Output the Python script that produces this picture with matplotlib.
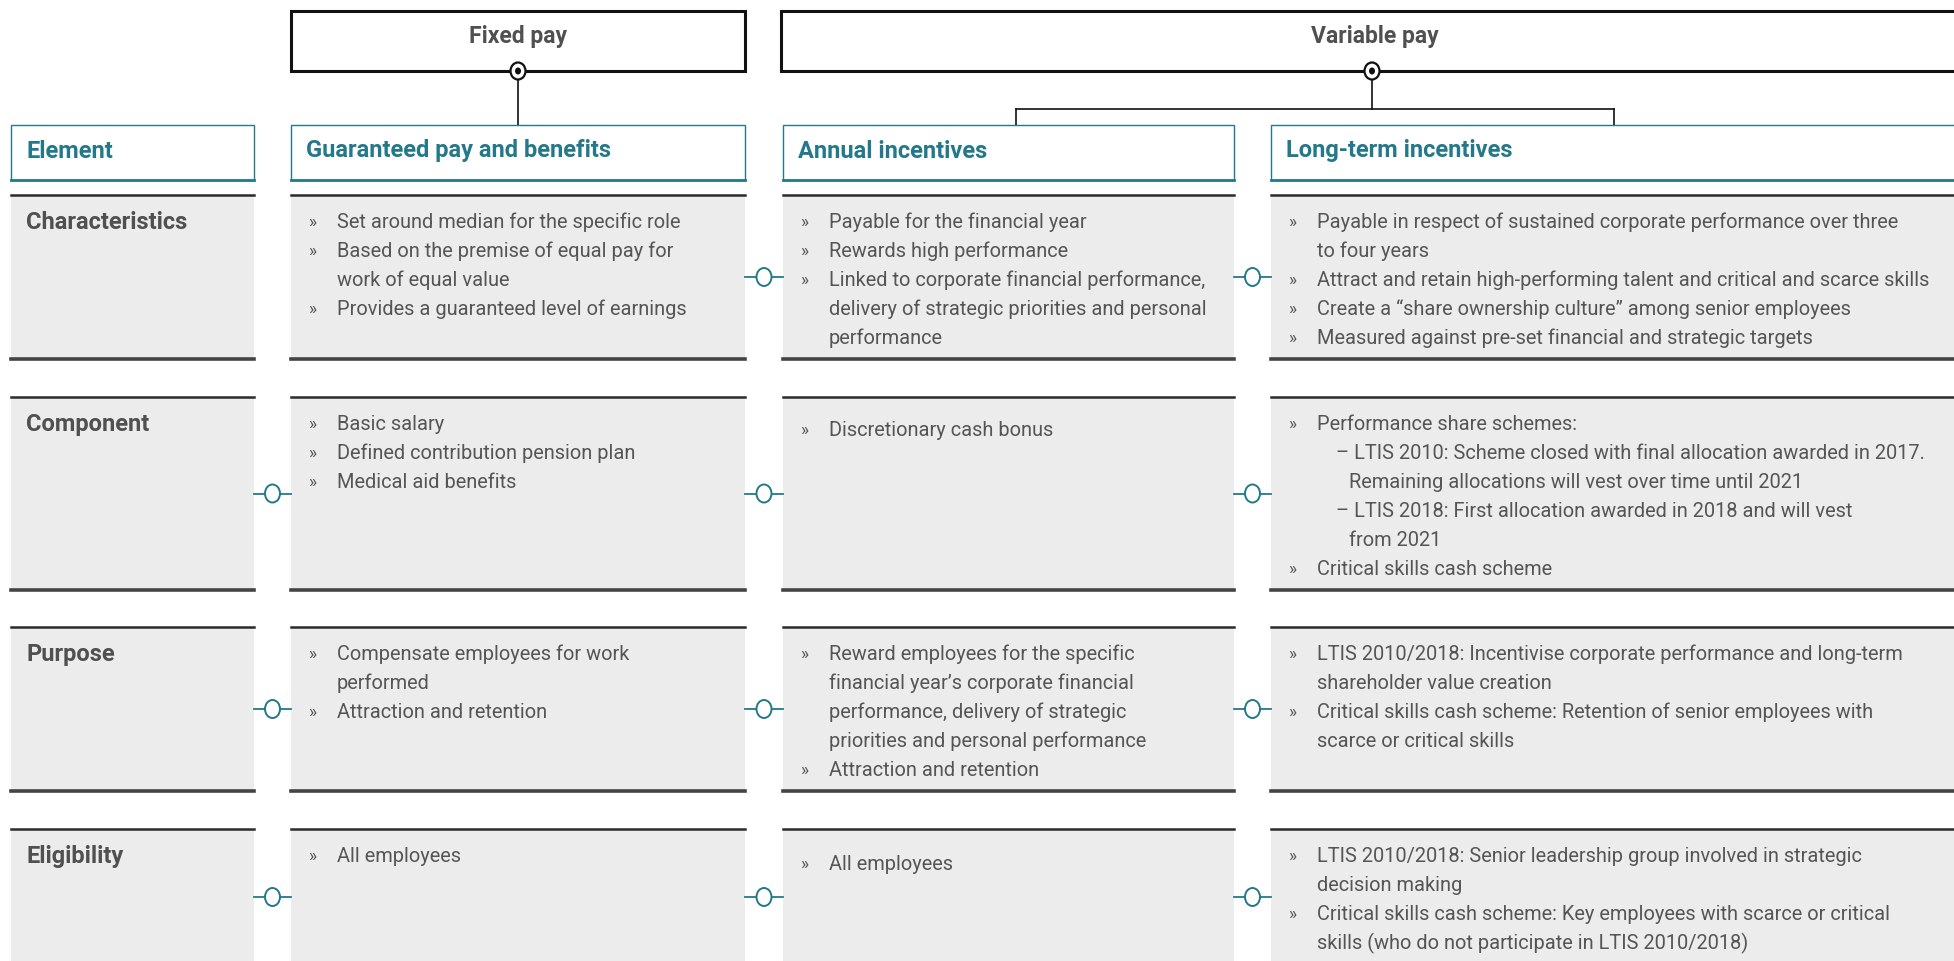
import matplotlib.pyplot as plt
from matplotlib.patches import Rectangle, Ellipse

# ---- content ----
groups = ["Fixed pay", "Variable pay"]
header_labels = ["Element", "Guaranteed pay and benefits", "Annual incentives", "Long-term incentives"]
row_labels = ["Characteristics", "Component", "Purpose", "Eligibility"]

characteristics = [
    ["Set around median for the specific role",
     "Based on the premise of equal pay for\nwork of equal value",
     "Provides a guaranteed level of earnings"],
    ["Payable for the financial year",
     "Rewards high performance",
     "Linked to corporate financial performance,\ndelivery of strategic priorities and personal\nperformance"],
    ["Payable in respect of sustained corporate performance over three\nto four years",
     "Attract and retain high-performing talent and critical and scarce skills",
     "Create a \u201cshare ownership culture\u201d among senior employees",
     "Measured against pre-set financial and strategic targets"],
]
component = [
    ["Basic salary", "Defined contribution pension plan", "Medical aid benefits"],
    ["Discretionary cash bonus"],
    ["Performance share schemes:",
     "-LTIS 2010: Scheme closed with final allocation awarded in 2017.\nRemaining allocations will vest over time until 2021",
     "-LTIS 2018: First allocation awarded in 2018 and will vest\nfrom 2021",
     "Critical skills cash scheme"],
]
purpose = [
    ["Compensate employees for work\nperformed", "Attraction and retention"],
    ["Reward employees for the specific\nfinancial year\u2019s corporate financial\nperformance, delivery of strategic\npriorities and personal performance",
     "Attraction and retention"],
    ["LTIS 2010/2018: Incentivise corporate performance and long-term\nshareholder value creation",
     "Critical skills cash scheme: Retention of senior employees with\nscarce or critical skills"],
]
eligibility = [
    ["All employees"],
    ["All employees"],
    ["LTIS 2010/2018: Senior leadership group involved in strategic\ndecision making",
     "Critical skills cash scheme: Key employees with scarce or critical\nskills (who do not participate in LTIS 2010/2018)"],
]
cells = [characteristics, component, purpose, eligibility]
connectors = [[False, True, True], [True, True, True], [True, True, True], [True, True, True]]
first_line_shift = [[0, 0, 0], [0, 6, 0], [0, 0, 0], [0, 8, 0]]

# ---- layout (pixel units) ----
W, H = 1954, 961
col_x = [(11, 254), (291, 745), (783, 1234), (1271, 1960)]
row_y = [(195, 359), (397, 590), (627, 791), (829, 965)]
head_y = (125, 180)
line_h = 29
teal = "#23798a"
txt = "#555555"
fill = "#ececec"
body_fs = 14.4
head_fs = 17

plt.rcParams['font.family'] = ['Roboto', 'DejaVu Sans']

fig = plt.figure(figsize=(W / 100, H / 100), dpi=100)
ax = fig.add_axes([0, 0, 1, 1])
ax.set_xlim(0, W)
ax.set_ylim(H, 0)
ax.axis('off')

# top group boxes
group_x = [(291, 745), (781, 1975)]
group_cx = [518, 1375]
for (x0, x1), cx, g in zip(group_x, group_cx, groups):
    ax.add_patch(Rectangle((x0, 11), x1 - x0, 60, fc='white', ec='#111111', lw=2.2, zorder=2))
    ax.text(cx, 36, g, ha='center', va='center',
            fontsize=head_fs - 0.5, fontweight='bold', color='#505050', zorder=3)

# fixed pay link
fx = 518
ax.plot([fx, fx], [71, head_y[0]], color='#111111', lw=1.2, zorder=1)
# variable pay link
vx = 1372
ax.plot([vx, vx], [71, 109], color='#111111', lw=1.2, zorder=1)
ax.plot([1016, 1614], [109, 109], color='#111111', lw=1.2, zorder=1)
for x in (1016, 1614):
    ax.plot([x, x], [109, head_y[0]], color='#111111', lw=1.2, zorder=1)
for x in (fx, vx):
    ax.add_patch(Ellipse((x, 71), 15, 17, fc='white', ec='#111111', lw=1.6, zorder=4))
    ax.add_patch(Ellipse((x, 71), 6, 7, fc='#111111', ec='none', zorder=5))

# header row
for (x0, x1), lab in zip(col_x, header_labels):
    ax.add_patch(Rectangle((x0, head_y[0]), x1 - x0, head_y[1] - head_y[0],
                           fc='white', ec=teal, lw=1.0, zorder=2))
    ax.plot([x0, x1], [head_y[1], head_y[1]], color=teal, lw=2, zorder=3)
    ax.text(x0 + 15, 151, lab, ha='left', va='center', fontsize=head_fs,
            fontweight='bold', color=teal, zorder=3)

# body rows
for r, (y0, y1) in enumerate(row_y):
    for c, (x0, x1) in enumerate(col_x):
        ax.add_patch(Rectangle((x0, y0), x1 - x0, y1 - y0, fc=fill, ec='none', zorder=1))
        ax.plot([x0, x1], [y0, y0], color='#2b2b2b', lw=1.8, zorder=2)
        ax.plot([x0, x1], [y1, y1], color='#444444', lw=2.6, zorder=2)
    base = y0 + 33
    ax.text(col_x[0][0] + 15, base + 1, row_labels[r], ha='left', va='baseline',
            fontsize=head_fs, fontweight='bold', color='#505050', zorder=3)
    for c, items in enumerate(cells[r]):
        x0 = col_x[c + 1][0]
        bx, tx = x0 + 17, x0 + 46
        yy = base + first_line_shift[r][c]
        for item in items:
            sub = item.startswith('-')
            lines = item.lstrip('-').split('\n')
            if sub:
                lines[0] = "\u2013 " + lines[0]
            else:
                ax.text(bx, yy - 1, "\u00bb", ha='left', va='baseline', fontsize=body_fs - 2,
                        fontweight='normal', color=txt, zorder=3)
            for i, ln in enumerate(lines):
                xo = 0 if not sub else (19 if i == 0 else 32)
                ax.text(tx + xo, yy, ln, ha='left', va='baseline',
                        fontsize=body_fs, fontweight='normal', color=txt, zorder=3)
                yy += line_h
    # connectors between columns
    ym = (y0 + y1) / 2
    for c, on in enumerate(connectors[r]):
        if not on:
            continue
        xa, xb = col_x[c][1], col_x[c + 1][0]
        ax.plot([xa, xb], [ym, ym], color=teal, lw=1.3, zorder=3)
        ax.add_patch(Ellipse(((xa + xb) / 2, ym), 15, 18, fc='white', ec=teal, lw=1.4, zorder=4))

fig.savefig('out.png', dpi=100)
